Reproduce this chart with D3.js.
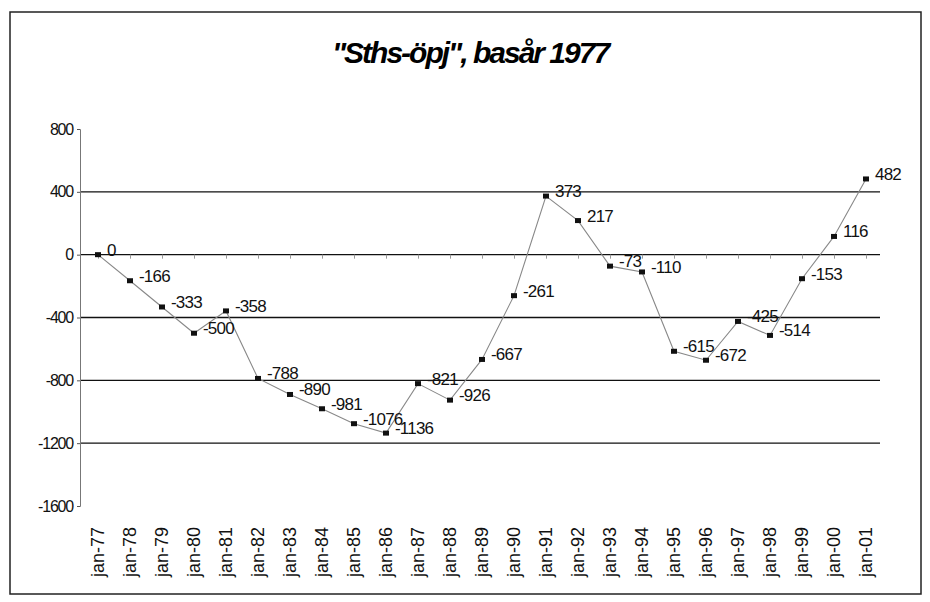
<!DOCTYPE html>
<html>
<head>
<meta charset="utf-8">
<script src="https://cdn.jsdelivr.net/npm/d3@7"></script>
<style>
  body { margin: 0; background: #fff; }
  svg { display: block; font-family: "Liberation Sans", Arial, sans-serif; }
  .tick-label { font-size: 16px; letter-spacing: -1.2px; fill: #111; }
  .val-label { font-size: 17px; letter-spacing: -0.8px; fill: #111; }
  .cat-label { font-size: 18px; fill: #111; }
</style>
</head>
<body>
<div id="chart"></div>
<script>
// ── Data ───────────────────────────────────────────────────────────────
const categories = [
  "jan-77", "jan-78", "jan-79", "jan-80", "jan-81", "jan-82", "jan-83",
  "jan-84", "jan-85", "jan-86", "jan-87", "jan-88", "jan-89", "jan-90",
  "jan-91", "jan-92", "jan-93", "jan-94", "jan-95", "jan-96", "jan-97",
  "jan-98", "jan-99", "jan-00", "jan-01",
];
const values = [
  0, -166, -333, -500, -358, -788, -890, -981, -1076, -1136, -821, -926,
  -667, -261, 373, 217, -73, -110, -615, -672, -425, -514, -153, 116, 482,
];
const yTicks = [800, 400, 0, -400, -800, -1200, -1600];
const gridValues = [400, 0, -400, -800, -1200];

const data = categories.map((c, i) => ({ cat: c, value: values[i] }));

// ── SVG ────────────────────────────────────────────────────────────────
const W = 930, H = 602;
const svg = d3.select("#chart").append("svg")
  .attr("width", W).attr("height", H);

// outer frame
svg.append("rect")
  .attr("x", 10).attr("y", 12)
  .attr("width", 911).attr("height", 582)
  .attr("fill", "none").attr("stroke", "#222").attr("stroke-width", 1.5);

// ── Title ──────────────────────────────────────────────────────────────
svg.append("text")
  .attr("x", 470).attr("y", 63)
  .attr("text-anchor", "middle")
  .style("font-size", "30px")
  .style("font-weight", "bold")
  .style("font-style", "italic")
  .style("letter-spacing", "-2px")
  .text("\"Sths-öpj\", basår 1977");

// ── Scales ─────────────────────────────────────────────────────────────
const x = d3.scalePoint().domain(categories).range([98, 866]);
const y = d3.scaleLinear().domain([-1600, 800]).range([506, 129]);
const axisX = 80, gridRight = 880;

// ── Grid lines ─────────────────────────────────────────────────────────
svg.append("g")
  .selectAll("line")
  .data(gridValues)
  .join("line")
  .attr("x1", axisX).attr("x2", gridRight)
  .attr("y1", (d) => y(d)).attr("y2", (d) => y(d))
  .attr("stroke", "#111").attr("stroke-width", 1.4);

// ── Y axis ─────────────────────────────────────────────────────────────
const yAxis = svg.append("g")
  .attr("transform", `translate(${axisX},0)`)
  .call(d3.axisLeft(y).tickValues(yTicks).tickSize(3).tickFormat((d) => String(d)));
yAxis.select(".domain").attr("stroke", "#777").attr("stroke-width", 1);
yAxis.selectAll(".tick line").attr("stroke", "#555");
yAxis.selectAll(".tick text")
  .attr("class", "tick-label")
  .attr("x", -7)
  .style("font-family", "'Liberation Sans', Arial, sans-serif");

// ── X axis (on zero line) ─────────────────────────────────────────────
const xAxis = svg.append("g")
  .attr("transform", `translate(0,${y(0)})`)
  .call(d3.axisBottom(x).tickSize(4).tickFormat(""));
xAxis.select(".domain").remove();
xAxis.selectAll(".tick line").attr("stroke", "#999");

// category labels at bottom, rotated
svg.append("g")
  .selectAll("text")
  .data(categories)
  .join("text")
  .attr("class", "cat-label")
  .attr("transform", (d) => `translate(${x(d) + 6},527) rotate(-90)`)
  .attr("text-anchor", "end")
  .text((d) => d);

// ── Line ───────────────────────────────────────────────────────────────
const line = d3.line()
  .x((d) => x(d.cat))
  .y((d) => y(d.value));

svg.append("path")
  .datum(data)
  .attr("d", line)
  .attr("fill", "none")
  .attr("stroke", "#888")
  .attr("stroke-width", 1.1);

// ── Markers ────────────────────────────────────────────────────────────
svg.append("g")
  .selectAll("rect")
  .data(data)
  .join("rect")
  .attr("x", (d) => x(d.cat) - 3)
  .attr("y", (d) => y(d.value) - 2.5)
  .attr("width", 6).attr("height", 5)
  .attr("fill", "#111");

// ── Value labels ───────────────────────────────────────────────────────
svg.append("g")
  .selectAll("text")
  .data(data)
  .join("text")
  .attr("class", "val-label")
  .attr("x", (d) => x(d.cat) + 9)
  .attr("y", (d) => y(d.value) + 1)
  .text((d) => d.value);
</script>
</body>
</html>
